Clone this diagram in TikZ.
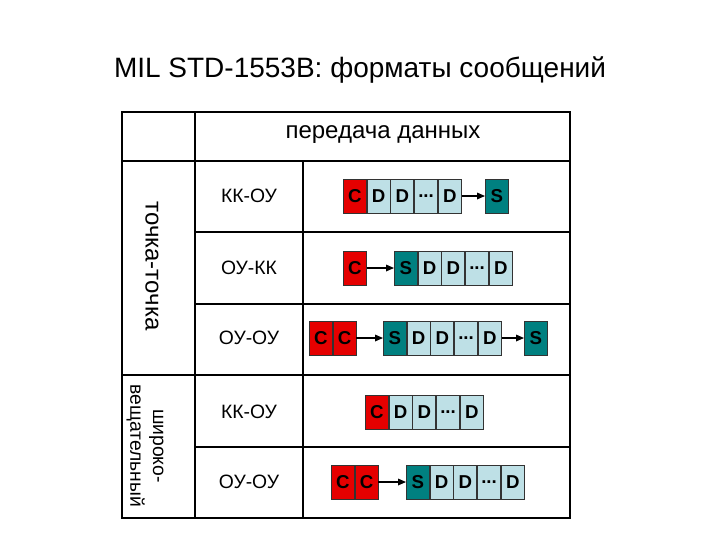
\documentclass[tikz,border=0pt]{standalone}
\usepackage{fontspec}
\setmainfont{Liberation Sans}
\usetikzlibrary{positioning,arrows.meta}
\begin{document}
\begin{tikzpicture}[x=0.75pt,y=-0.75pt,
  cell/.style={draw=black!80,line width=0.6pt,minimum width=17.2pt,minimum height=25.5pt,inner sep=0pt,font=\fontsize{14}{14}\selectfont\bfseries,anchor=west},
  cr/.style={cell,fill=red!90!black},
  cd/.style={cell,fill={rgb,255:red,190;green,224;blue,230}},
  cs/.style={cell,fill={rgb,255:red,0;green,128;blue,128}},
  arr/.style={-{Triangle[length=6pt,width=5pt]},line width=0.9pt},
  lab/.style={font=\fontsize{14.5}{16}\selectfont},
  big/.style={font=\fontsize{18}{21}\selectfont}]
\useasboundingbox (0,0) rectangle (720,540);
\node[font=\fontsize{21}{24}\selectfont] (title) at (360,70) {MIL STD-1553B: форматы сообщений};
% table
\draw[line width=1.2pt] (195,112) -- (195,518);
\draw[line width=1.2pt] (303,161) -- (303,518);
\draw[line width=1.2pt] (122,161) -- (570,161);
\draw[line width=1.2pt] (122,375) -- (570,375);
\draw[line width=1pt] (195,232) -- (570,232) (195,304) -- (570,304) (195,447) -- (570,447);
\draw[line width=2pt] (122,112) rectangle (570,518);
\node[big] (hdr) at (383,135) {передача данных};
\node[big,rotate=-90] (pp) at (152,266) {точка-точка};
\node[rotate=-90,align=center,font=\fontsize{14.5}{17}\selectfont] (bc) at (145,446) {широко-\\вещательный};
\node[lab] (l1) at (249,196) {КК-ОУ};
\node[lab] (l2) at (249,268) {ОУ-КК};
\node[lab] (l3) at (249,338) {ОУ-ОУ};
\node[lab] (l4) at (249,412) {КК-ОУ};
\node[lab] (l5) at (249,482) {ОУ-ОУ};
% row 1
\node[cr] (a1) at (343,196) {C};
\node[cd,right=0pt of a1] (a2) {D};
\node[cd,right=0pt of a2] (a3) {D};
\node[cd,right=0pt of a3] (a4) {...};
\node[cd,right=0pt of a4] (a5) {D};
\node[cs] (a6) at (485,196) {S};
\draw[arr] (a5) -- (a6);
% row 2
\node[cr] (b1) at (343,268) {C};
\node[cs] (b2) at (394,268) {S};
\node[cd,right=0pt of b2] (b3) {D};
\node[cd,right=0pt of b3] (b4) {D};
\node[cd,right=0pt of b4] (b5) {...};
\node[cd,right=0pt of b5] (b6) {D};
\draw[arr] (b1) -- (b2);
% row 3
\node[cr] (c1) at (309,338) {C};
\node[cr,right=0pt of c1] (c2) {C};
\node[cs] (c3) at (383,338) {S};
\node[cd,right=0pt of c3] (c4) {D};
\node[cd,right=0pt of c4] (c5) {D};
\node[cd,right=0pt of c5] (c6) {...};
\node[cd,right=0pt of c6] (c7) {D};
\node[cs] (c8) at (524,338) {S};
\draw[arr] (c2) -- (c3);
\draw[arr] (c7) -- (c8);
% row 4
\node[cr] (d1) at (365,412) {C};
\node[cd,right=0pt of d1] (d2) {D};
\node[cd,right=0pt of d2] (d3) {D};
\node[cd,right=0pt of d3] (d4) {...};
\node[cd,right=0pt of d4] (d5) {D};
% row 5
\node[cr] (e1) at (331,482) {C};
\node[cr,right=0pt of e1] (e2) {C};
\node[cs] (e3) at (406,482) {S};
\node[cd,right=0pt of e3] (e4) {D};
\node[cd,right=0pt of e4] (e5) {D};
\node[cd,right=0pt of e5] (e6) {...};
\node[cd,right=0pt of e6] (e7) {D};
\draw[arr] (e2) -- (e3);
\end{tikzpicture}
\end{document}
